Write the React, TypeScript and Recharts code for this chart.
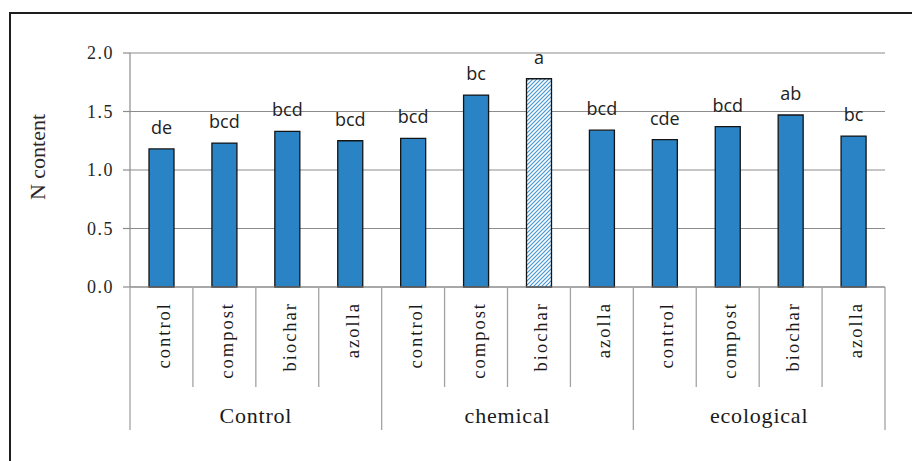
import React from 'react';
import { BarChart, Bar, XAxis, YAxis, CartesianGrid, Cell, LabelList } from 'recharts';

const categories = ['control', 'compost', 'biochar', 'azolla', 'control', 'compost', 'biochar', 'azolla', 'control', 'compost', 'biochar', 'azolla'];
const groups = ['Control', 'chemical', 'ecological'];
const nContent = [1.18, 1.23, 1.33, 1.25, 1.27, 1.64, 1.78, 1.34, 1.26, 1.37, 1.47, 1.29];
const letters = ['de', 'bcd', 'bcd', 'bcd', 'bcd', 'bc', 'a', 'bcd', 'cde', 'bcd', 'ab', 'bc'];
const yTicks = [0, 0.5, 1.0, 1.5, 2.0];
const yTitle = 'N content';

const GROUP_SIZE = 4;
const HATCHED_BAR = 6;

const data = categories.map((c, i) => ({
  key: `${groups[Math.floor(i / GROUP_SIZE)]}-${c}-${i}`,
  category: c,
  group: groups[Math.floor(i / GROUP_SIZE)],
  value: nContent[i],
  letter: letters[i],
}));

const SERIF = '"Times New Roman", "Liberation Serif", serif';
const SANS = '"Open Sans", "Noto Sans", sans-serif';
const SEP = '#a3a3a3';

const CategoryTick = (props: any) => {
  const { x, y, payload, index } = props;
  const band = payload && payload.offset ? payload.offset * 2 : (props.width || 755) / categories.length;
  const half = band / 2;
  const left = x - half;
  const right = x + half;
  const isGroupStart = index % GROUP_SIZE === 0;
  const isLast = index === categories.length - 1;
  const isGroupMid = index % GROUP_SIZE === GROUP_SIZE / 2 - 1;
  const groupName = groups[Math.floor(index / GROUP_SIZE)];
  const ty = y + 15;
  return (
    <g>
      <line x1={left} x2={left} y1={y} y2={y + (isGroupStart ? 143 : 100)} stroke={SEP} strokeWidth={1.3} />
      {isLast && <line x1={right} x2={right} y1={y} y2={y + 143} stroke={SEP} strokeWidth={1.3} />}
      <text
        x={x + 2}
        y={ty}
        transform={`rotate(-90, ${x + 2}, ${ty})`}
        textAnchor="end"
        dy="0.35em"
        fontFamily={SERIF}
        fontSize={18.5}
        letterSpacing={2}
        fill="#1a1a1a"
      >
        {payload.value}
      </text>
      {isGroupMid && (
        <text x={right} y={y + 136} textAnchor="middle" fontFamily={SERIF} fontSize={22} letterSpacing={0.8} fill="#1a1a1a">
          {groupName}
        </text>
      )}
    </g>
  );
};

export default function App() {
  return (
    <div style={{ position: 'fixed', left: 0, top: 0, width: 912, height: 461, overflow: 'hidden', background: '#fff' }}>
      <div
        style={{
          position: 'absolute',
          left: 9,
          top: 12,
          width: 980,
          height: 520,
          border: '2px solid #1e1e1e',
          boxSizing: 'border-box',
        }}
      />
      <div style={{ position: 'absolute', left: 0, top: 0 }}>
        <BarChart width={912} height={461} data={data} margin={{ top: 53, right: 27, left: 0, bottom: 0 }} barSize={25}>
          <defs>
            <pattern id="hatch" patternUnits="userSpaceOnUse" width="4" height="4">
              <rect width="4" height="4" fill="#ffffff" />
              <path d="M-1,1 l2,-2 M0,4 l4,-4 M3,5 l2,-2" stroke="#3f93d3" strokeWidth={1.1} />
            </pattern>
          </defs>
          <CartesianGrid vertical={false} stroke="#8c8c8c" strokeWidth={1.2} />
          <XAxis
            dataKey="category"
            height={174}
            interval={0}
            tickLine={false}
            tickSize={0}
            tickMargin={0}
            axisLine={{ stroke: '#8c8c8c', strokeWidth: 1.2 }}
            tick={<CategoryTick />}
          />
          <YAxis
            width={130}
            domain={[0, 2]}
            ticks={yTicks}
            tickFormatter={(v: number) => v.toFixed(1)}
            tickSize={7}
            tickMargin={9}
            tickLine={{ stroke: '#8c8c8c', strokeWidth: 1.2 }}
            axisLine={{ stroke: '#8c8c8c', strokeWidth: 1.2 }}
            tick={{ fontFamily: SERIF, fontSize: 18, fill: '#262626', letterSpacing: 1.5 }}
            label={(p: any) => {
              const vb = p.viewBox || { x: 0, y: 53, height: 234 };
              const cx = vb.x + 45;
              const cy = vb.y + vb.height / 2 - 13;
              return (
                <text
                  x={cx}
                  y={cy}
                  transform={`rotate(-90, ${cx}, ${cy})`}
                  textAnchor="middle"
                  fontFamily={SERIF}
                  fontSize={22}
                  fill="#2e2626"
                >
                  {yTitle}
                </text>
              );
            }}
          />
          <Bar dataKey="value" isAnimationActive={false} stroke="#141414" strokeWidth={1.3}>
            {data.map((d, i) => (
              <Cell key={d.key} fill={i === HATCHED_BAR ? 'url(#hatch)' : '#2a83c4'} />
            ))}
            <LabelList dataKey="letter" position="top" offset={15} fontFamily={SANS} fontSize={18} fill="#222" />
          </Bar>
        </BarChart>
      </div>
    </div>
  );
}
